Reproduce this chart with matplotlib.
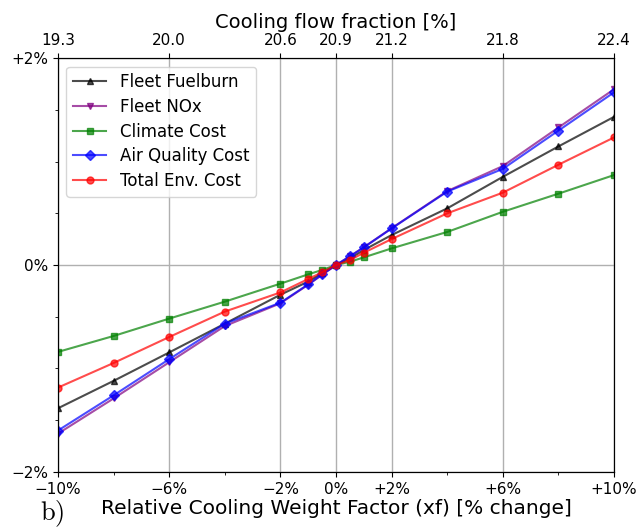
import numpy as np
import matplotlib
matplotlib.use('Agg')
import matplotlib.pyplot as plt
from matplotlib.ticker import MultipleLocator

# relative change of the cooling weight factor [%]
xf = [-10, -8, -6, -4, -2, -1, -0.5, 0, 0.5, 1, 2, 4, 6, 8, 10]

# responses [% change]
fuelburn = [-1.385, -1.12, -0.845, -0.567, -0.287, -0.16, -0.08, 0, 0.065, 0.145, 0.29, 0.548, 0.853, 1.147, 1.433]
nox = [-1.63, -1.29, -0.94, -0.59, -0.37, -0.19, -0.095, 0, 0.085, 0.172, 0.356, 0.715, 0.957, 1.33, 1.70]
climate = [-0.84, -0.686, -0.518, -0.354, -0.18, -0.09, -0.048, 0, 0.032, 0.074, 0.161, 0.32, 0.515, 0.69, 0.87]
air_quality = [-1.60, -1.26, -0.91, -0.567, -0.364, -0.187, -0.09, 0, 0.084, 0.171, 0.354, 0.71, 0.93, 1.30, 1.67]
total_env = [-1.185, -0.947, -0.696, -0.45, -0.265, -0.135, -0.07, 0, 0.048, 0.119, 0.251, 0.50, 0.70, 0.97, 1.234]

xticks = [-10, -6, -2, 0, 2, 6, 10]
xtick_labels = ['\u221210%', '\u22126%', '\u22122%', '0%', '+2%', '+6%', '+10%']
flow_labels = ['19.3', '20.0', '20.6', '20.9', '21.2', '21.8', '22.4']
yticks = [-2, 0, 2]
ytick_labels = ['\u22122%', '0%', '+2%']

plt.rcParams['mathtext.fontset'] = 'cm'

fig = plt.figure(figsize=(6.41, 5.29), dpi=100)
ax = fig.add_axes([0.0905, 0.108, 0.8675, 0.782])

ax.plot(xf, fuelburn, color='k', marker='^', ms=5, alpha=0.7, label='Fleet Fuelburn')
ax.plot(xf, nox, color='purple', marker='v', ms=5, alpha=0.7, label='Fleet NOx')
ax.plot(xf, climate, color='green', marker='s', ms=5, alpha=0.7, label='Climate Cost')
ax.plot(xf, air_quality, color='blue', marker='D', ms=5, alpha=0.7, label='Air Quality Cost')
ax.plot(xf, total_env, color='red', marker='o', ms=5, alpha=0.7, label='Total Env. Cost')

ax.set_xlim(-10, 10)
ax.set_ylim(-2, 2)
ax.set_xticks(xticks)
ax.set_xticklabels(xtick_labels, fontsize=11)
ax.xaxis.set_minor_locator(MultipleLocator(4))
ax.set_yticks(yticks)
ax.set_yticklabels(ytick_labels, fontsize=11)
ax.yaxis.set_minor_locator(MultipleLocator(0.5))
ax.grid(True, which='major', color='#b0b0b0', lw=1)
ax.set_xlabel('Relative Cooling Weight Factor (xf) [% change]', fontsize=14.5, labelpad=2)
ax.legend(loc='upper left', fontsize=12, labelspacing=0.4)

# cooling flow fraction on the top axis
ax2 = ax.twiny()
ax2.set_xlim(ax.get_xlim())
ax2.set_xticks(xticks)
ax2.set_xticklabels(flow_labels, fontsize=11)
ax2.set_xlabel('Cooling flow fraction [%]', fontsize=14)

fig.text(0.062, 0.016, r'$\mathrm{b)}$', fontsize=19)

plt.savefig('out.png')
